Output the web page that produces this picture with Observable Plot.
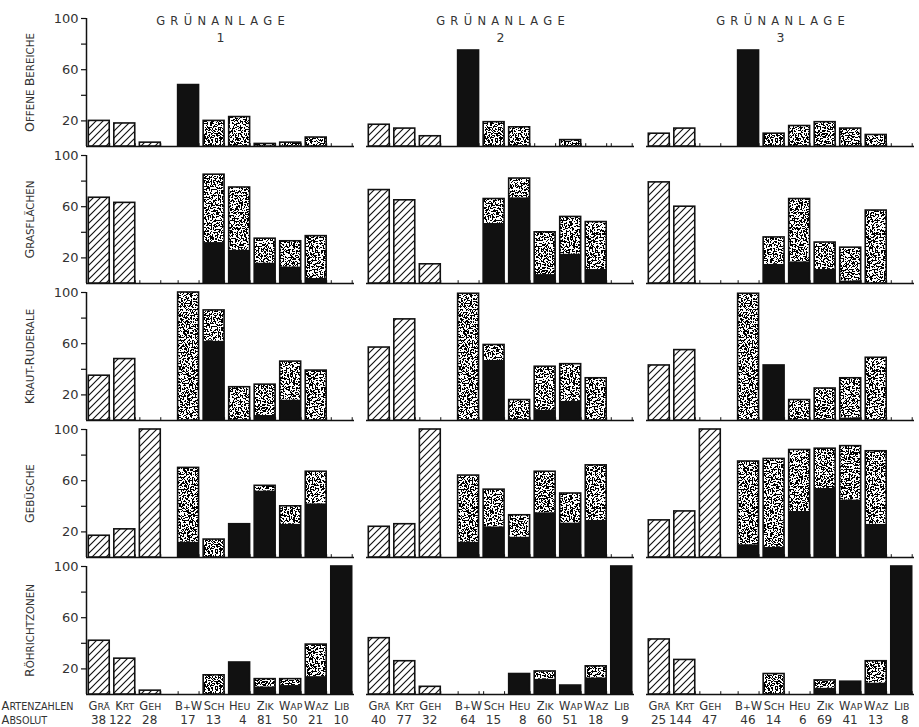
<!DOCTYPE html>
<html>
<head>
<meta charset="utf-8">
<script src="https://cdn.jsdelivr.net/npm/d3@7"></script>
<script src="https://cdn.jsdelivr.net/npm/@observablehq/plot@0.6"></script>
<style>
  body { margin: 0; background: #fff; }
  #chart svg { display: block; }
</style>
</head>
<body>
<div id="chart"></div>
<script>
// ---------- data ----------
const categories = ["Grä", "Krt", "Geh", "B+W", "Sch", "Heu", "Zik", "Wap", "Waz", "Lib"];
const hatchedCategories = ["Grä", "Krt", "Geh"];
const habitats = ["Offene Bereiche", "Grasflächen", "Kraut-Ruderale", "Gebüsche", "Röhrichtzonen"];
const sites = ["1", "2", "3"];
const siteTitle = "GRÜNANLAGE";
const rowLabelLeft = ["Artenzahlen", "Absolut"];

// Artenzahlen absolut, per Grünanlage
const artenzahlen1 = [38, 122, 28, 17, 13, 4, 81, 50, 21, 10];
const artenzahlen2 = [40, 77, 32, 64, 15, 8, 60, 51, 18, 9];
const artenzahlen3 = [25, 144, 47, 46, 14, 6, 69, 41, 13, 8];

// total bar height (%) per habitat row, per Grünanlage
const total1 = [
  [20, 18, 3, 48, 20, 23, 2, 3, 7, 0],
  [67, 63, 0, 0, 85, 75, 35, 33, 37, 0],
  [35, 48, 0, 100, 86, 26, 28, 46, 39, 0],
  [17, 22, 100, 70, 14, 26, 56, 40, 67, 0],
  [42, 28, 3, 0, 15, 25, 12, 12, 39, 100]
];
// black (solid) part of the bar
const black1 = [
  [0, 0, 0, 48, 0, 0, 0, 0, 0, 0],
  [0, 0, 0, 0, 32, 26, 16, 13, 4, 0],
  [0, 0, 0, 0, 62, 0, 4, 16, 0, 0],
  [0, 0, 0, 12, 0, 26, 52, 26, 42, 0],
  [0, 0, 0, 0, 0, 25, 6, 7, 14, 100]
];
const total2 = [
  [17, 14, 8, 75, 19, 15, 0, 5, 0, 0],
  [73, 65, 15, 0, 66, 82, 40, 52, 48, 0],
  [57, 79, 0, 99, 59, 16, 42, 44, 33, 0],
  [24, 26, 100, 64, 53, 33, 67, 50, 72, 0],
  [44, 26, 6, 0, 0, 16, 18, 7, 22, 100]
];
const black2 = [
  [0, 0, 0, 75, 0, 0, 0, 0, 0, 0],
  [0, 0, 0, 0, 47, 67, 7, 23, 11, 0],
  [0, 0, 0, 0, 47, 0, 8, 15, 0, 0],
  [0, 0, 0, 12, 24, 16, 35, 27, 29, 0],
  [0, 0, 0, 0, 0, 16, 12, 7, 13, 100]
];
const total3 = [
  [10, 14, 0, 75, 10, 16, 19, 14, 9, 0],
  [79, 60, 0, 0, 36, 66, 32, 28, 57, 0],
  [43, 55, 0, 99, 43, 16, 25, 33, 49, 0],
  [29, 36, 100, 75, 77, 84, 85, 87, 83, 0],
  [43, 27, 0, 0, 16, 0, 11, 10, 26, 100]
];
const black3 = [
  [0, 0, 0, 75, 0, 0, 0, 0, 0, 0],
  [0, 0, 0, 0, 15, 17, 11, 2, 0, 0],
  [0, 0, 0, 0, 43, 0, 0, 2, 0, 0],
  [0, 0, 0, 10, 8, 36, 54, 45, 26, 0],
  [0, 0, 0, 0, 0, 0, 5, 10, 9, 100]
];
const yTicks = [20, 40, 60, 80, 100];
const yTickLabels = [20, 60, 100];

// ---------- build tables ----------
const totals = [total1, total2, total3];
const blacks = [black1, black2, black3];
const counts = [artenzahlen1, artenzahlen2, artenzahlen3];
// position along the category axis; a half-slot gap separates the hatched group
const slot = (i) => i + (i >= hatchedCategories.length ? 0.5 : 0);
const half = 0.41;
const xDomain = [-0.5, slot(categories.length - 1) + 0.5];

const cells = [];
sites.forEach((s, si) => habitats.forEach((h, hi) => categories.forEach((c, ci) => {
  cells.push({
    site: s, habitat: h, cat: c, pos: slot(ci),
    total: totals[si][hi][ci], black: blacks[si][hi][ci],
    hatched: hatchedCategories.includes(c)
  });
})));
const bars = cells.filter(d => d.total > 0);
const hatchBars = bars.filter(d => d.hatched);
const blackBars = bars.filter(d => !d.hatched && d.black > 0);
const stippleBars = bars.filter(d => !d.hatched && d.total > d.black);

const bottomRow = habitats[habitats.length - 1];
const labelCells = [];
sites.forEach((s, si) => categories.forEach((c, ci) => {
  labelCells.push({site: s, cat: c, pos: slot(ci), n: counts[si][ci]});
}));

const INK = "#333";
const BAR = "#111";
const FONT = '"DejaVu Sans", "Liberation Sans", sans-serif';
const fx = "site", fy = "habitat";

const chart = Plot.plot({
  width: 919,
  height: 727,
  marginLeft: 86,
  marginRight: 5,
  marginTop: 18,
  marginBottom: 33,
  style: {fontFamily: FONT, fontSize: "12px", color: INK, background: "white", overflow: "visible"},
  fx: {domain: sites, paddingInner: 0.043, paddingOuter: 0, axis: null},
  fy: {domain: habitats, paddingInner: 0.066, paddingOuter: 0, axis: null},
  x: {domain: xDomain, axis: null},
  y: {domain: [0, 100]},
  marks: [
    // baseline
    Plot.ruleY([0], {stroke: BAR, strokeWidth: 1.5}),
    // small ticks at bar edges
    Plot.ruleX(cells, {fx, fy, x: d => d.pos - half, y1: 0, y2: 2.2, stroke: BAR, strokeWidth: 1}),
    Plot.ruleX(cells, {fx, fy, x: d => d.pos + half, y1: 0, y2: 2.2, stroke: BAR, strokeWidth: 1}),
    // hatched bars
    Plot.rect(hatchBars, {fx, fy, x1: d => d.pos - half, x2: d => d.pos + half, y1: 0, y2: "total", fill: "url(#hatch)"}),
    // black parts
    Plot.rect(blackBars, {fx, fy, x1: d => d.pos - half, x2: d => d.pos + half, y1: 0, y2: "black", fill: BAR}),
    // stippled parts
    Plot.rect(stippleBars, {fx, fy, x1: d => d.pos - half, x2: d => d.pos + half, y1: "black", y2: "total", fill: "url(#stipple)"}),
    // outlines
    Plot.rect(bars, {fx, fy, x1: d => d.pos - half, x2: d => d.pos + half, y1: 0, y2: "total", fill: "none", stroke: BAR, strokeWidth: 1.6}),
    // y axis line + ticks (left column only)
    Plot.ruleX([xDomain[0]], {y1: 0, y2: 100, stroke: BAR, strokeWidth: 1.5, facetAnchor: "left"}),
    Plot.axisY({ticks: yTicks, tickSize: 5, tickPadding: 3, label: null, stroke: BAR, strokeWidth: 1.2,
      fill: INK, fontSize: 13, tickFormat: d => yTickLabels.includes(d) ? d : ""}),
    // row labels
    Plot.text(habitats, {fy: d => d, fx: () => sites[0], text: d => d, frameAnchor: "left", dx: -56,
      rotate: -90, textAnchor: "middle", lineAnchor: "middle", fill: INK}),
    // titles
    Plot.text(sites, {fx: d => d, fy: () => habitats[0], text: () => siteTitle, frameAnchor: "top", dy: 3,
      lineAnchor: "middle", textAnchor: "middle", fontSize: 11.5, fill: INK}),
    Plot.text(sites, {fx: d => d, fy: () => habitats[0], text: d => d, frameAnchor: "top", dy: 19,
      lineAnchor: "middle", textAnchor: "middle", fontSize: 12.5, fill: INK}),
    // category labels & counts under the bottom row
    Plot.text(labelCells, {fx, fy: () => bottomRow, x: "pos", text: "cat", frameAnchor: "bottom", dy: 12,
      lineAnchor: "middle", textAnchor: "middle", fill: INK}),
    Plot.text(labelCells, {fx, fy: () => bottomRow, x: "pos", text: "n", frameAnchor: "bottom", dy: 26, dx: 7,
      lineAnchor: "middle", textAnchor: "end", fontSize: 12, fill: INK}),
    Plot.text(rowLabelLeft.slice(0, 1), {fx: () => sites[0], fy: () => bottomRow, text: d => d, frameAnchor: "bottom-left",
      dx: -85, dy: 12, lineAnchor: "middle", textAnchor: "start", fill: INK}),
    Plot.text(rowLabelLeft.slice(1), {fx: () => sites[0], fy: () => bottomRow, text: d => d, frameAnchor: "bottom-left",
      dx: -85, dy: 26, lineAnchor: "middle", textAnchor: "start", fill: INK})
  ]
});

// ---------- post-processing: patterns & small caps ----------
const svg = d3.select(chart.tagName.toLowerCase() === "svg" ? chart : chart.querySelector("svg"));

// small caps: capitals at full size, lower-case letters as smaller capitals
const smallCapsSizes = new Map([
  ...habitats.map(h => [h, [12.5, 10.3]]),
  ...categories.map(c => [c, [11.5, 9.4]]),
  ...rowLabelLeft.map(r => [r, [11.5, 9.6]])
]);
svg.selectAll("text").each(function () {
  const t = this.textContent;
  if (!smallCapsSizes.has(t)) return;
  const [bigSize, smallSize] = smallCapsSizes.get(t);
  const sel = d3.select(this);
  sel.text(null);
  const runs = [];
  for (const ch of t) {
    const big = ch !== ch.toLowerCase();
    if (runs.length && runs[runs.length - 1].big === big) runs[runs.length - 1].s += ch;
    else runs.push({big, s: ch});
  }
  for (const r of runs) {
    sel.append("tspan").attr("font-size", r.big ? bigSize : smallSize).text(r.s.toUpperCase());
  }
});
// letter-spaced titles
svg.selectAll("text").filter(function () { return this.textContent === siteTitle; })
  .attr("letter-spacing", 5.3).attr("dx", 2.6);

const defs = svg.insert("defs", ":first-child");
const hatch = defs.append("pattern").attr("id", "hatch").attr("patternUnits", "userSpaceOnUse")
  .attr("width", 7).attr("height", 7);
hatch.append("rect").attr("width", 7).attr("height", 7).attr("fill", "white");
hatch.append("path").attr("d", "M-1,1 L1,-1 M0,7 L7,0 M6,8 L8,6")
  .attr("stroke", BAR).attr("stroke-width", 1.15).attr("stroke-linecap", "square");

const filter = defs.append("filter").attr("id", "noise").attr("x", 0).attr("y", 0)
  .attr("width", 1).attr("height", 1).attr("color-interpolation-filters", "sRGB");
filter.append("feTurbulence").attr("type", "fractalNoise").attr("baseFrequency", 0.65)
  .attr("numOctaves", 2).attr("seed", 11).attr("result", "n");
filter.append("feColorMatrix").attr("in", "n").attr("type", "matrix")
  .attr("values", "0 0 0 0 0  0 0 0 0 0  0 0 0 0 0  1 0 0 0 -0.012").attr("result", "a");
const ct = filter.append("feComponentTransfer").attr("in", "a").attr("result", "dots");
ct.append("feFuncA").attr("type", "discrete").attr("tableValues", "0 1");
filter.append("feFlood").attr("flood-color", "white").attr("result", "w");
const merge = filter.append("feMerge");
merge.append("feMergeNode").attr("in", "w");
merge.append("feMergeNode").attr("in", "dots");

const stipple = defs.append("pattern").attr("id", "stipple").attr("patternUnits", "userSpaceOnUse")
  .attr("width", 120).attr("height", 120);
stipple.append("rect").attr("width", 120).attr("height", 120).attr("fill", "white").attr("filter", "url(#noise)");

document.getElementById("chart").appendChild(chart);
</script>
</body>
</html>
